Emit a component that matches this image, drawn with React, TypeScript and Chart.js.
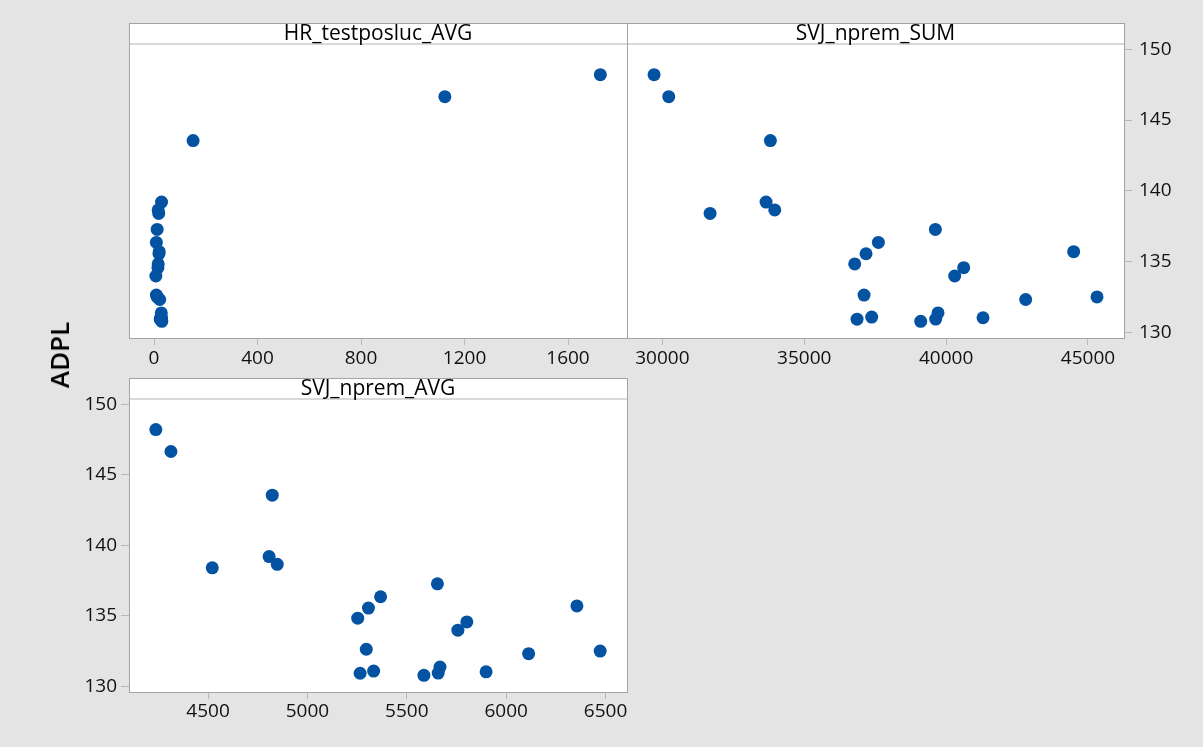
import React, { useEffect, useRef } from 'react';
import { Chart, registerables } from 'chart.js';

Chart.register(...registerables);

// ---- Data (one entry per observation) ----
const adpl = [148.2, 146.65, 143.55, 138.4, 139.2, 138.65, 137.27, 136.35, 135.55, 134.83, 135.7, 134.57, 133.98, 132.63, 132.32, 132.5, 130.93, 131.08, 130.78, 130.94, 131.37, 131.03];
const hrTestposlucAvg = [1725, 1124, 151, 18, 29, 16, 12, 9, 19, 16, 20, 15, 7, 9, 22, 12, 24, 27, 30, 25, 28, 29];
const svjNpremSum = [29706, 30223, 33806, 31680, 33653, 33959, 39621, 37612, 37177, 36778, 44495, 40619, 40302, 37107, 42804, 45318, 36860, 37377, 39104, 39632, 39714, 41300];
const svjNpremAvg = [4237, 4313, 4823, 4521, 4807, 4848, 5654, 5368, 5307, 5253, 6356, 5802, 5757, 5296, 6113, 6473, 5265, 5333, 5586, 5658, 5667, 5899];

const yTicks = [130, 135, 140, 145, 150];
const hrTicks = [0, 400, 800, 1200, 1600];
const sumTicks = [30000, 35000, 40000, 45000];
const avgTicks = [4500, 5000, 5500, 6000, 6500];

const yLabel = 'ADPL';
const titles = ['HR_testposluc_AVG', 'SVJ_nprem_SUM', 'SVJ_nprem_AVG'];

// ---- Styling ----
const FONT = '"Open Sans", "Noto Sans", sans-serif';
const BLUE = '#0452a2';
const TICK_COLOR = '#b8b8b8';
const TEXT_COLOR = '#111111';
const BORDER_COLOR = '#a3a3a3';
const HEADER_LINE = '#d9d9d9';
const BG = '#e4e4e4';
const HEADER_H = 21;
const Y_MIN = 129.6;
const Y_MAX = 150.37;

const panelPlugin = {
  id: 'panel',
  beforeDraw(chart: any) {
    const { ctx, chartArea: a } = chart;
    const top = a.top - HEADER_H;
    ctx.save();
    ctx.fillStyle = '#ffffff';
    ctx.fillRect(a.left, top, a.right - a.left, a.bottom - top);
    ctx.restore();
  },
  afterDraw(chart: any, _args: any, opts: any) {
    const { ctx, chartArea: a } = chart;
    const top = a.top - HEADER_H;
    ctx.save();
    // header separator
    ctx.strokeStyle = HEADER_LINE;
    ctx.lineWidth = 2;
    ctx.beginPath();
    ctx.moveTo(a.left, Math.round(a.top));
    ctx.lineTo(a.right, Math.round(a.top));
    ctx.stroke();
    // border
    ctx.strokeStyle = BORDER_COLOR;
    ctx.lineWidth = 1;
    ctx.strokeRect(Math.round(a.left) + 0.5, Math.round(top) + 0.5, Math.round(a.right - a.left), Math.round(a.bottom - top));
    // title
    ctx.fillStyle = '#000000';
    ctx.font = `21px ${FONT}`;
    ctx.textAlign = 'center';
    ctx.textBaseline = 'middle';
    ctx.fillText(opts.title, (a.left + a.right) / 2, top + HEADER_H / 2 + 1);
    ctx.restore();
  },
};

type Spec = {
  x: number; y: number; w: number; h: number;
  xs: number[]; xMin: number; xMax: number; xTicks: number[];
  title: string; yPos: 'left' | 'right' | 'none';
  pad: { left: number; right: number; top: number; bottom: number };
  xAxisH: number; yAxisW: number; xPad: number;
};

function makeConfig(s: Spec): any {
  const tickFont = { family: FONT, size: 19 };
  return {
    type: 'scatter',
    data: {
      datasets: [
        {
          data: s.xs.map((x, i) => ({ x, y: adpl[i] })),
          pointRadius: 6.5,
          pointHoverRadius: 6.5,
          backgroundColor: BLUE,
          borderColor: BLUE,
          borderWidth: 0,
        },
      ],
    },
    options: {
      responsive: false,
      animation: false,
      events: [],
      layout: { padding: s.pad },
      plugins: {
        legend: { display: false },
        tooltip: { enabled: false },
        panel: { title: s.title },
      },
      scales: {
        x: {
          type: 'linear',
          position: 'bottom',
          min: s.xMin,
          max: s.xMax,
          afterBuildTicks: (sc: any) => { sc.ticks = s.xTicks.map((v) => ({ value: v })); },
          afterFit: (sc: any) => { sc.height = s.xAxisH; },
          grid: { display: true, drawOnChartArea: false, drawTicks: true, tickLength: 7, tickColor: TICK_COLOR },
          border: { display: false },
          ticks: { font: tickFont, color: TEXT_COLOR, padding: s.xPad, maxRotation: 0, autoSkip: false, callback: (v: any) => String(v) },
        },
        y: {
          type: 'linear',
          display: s.yPos !== 'none',
          position: s.yPos === 'right' ? 'right' : 'left',
          min: Y_MIN,
          max: Y_MAX,
          afterBuildTicks: (sc: any) => { sc.ticks = yTicks.map((v) => ({ value: v })); },
          afterFit: (sc: any) => { sc.width = s.yAxisW; },
          grid: { display: true, drawOnChartArea: false, drawTicks: true, tickLength: 8, tickColor: TICK_COLOR },
          border: { display: false },
          ticks: { font: tickFont, color: TEXT_COLOR, padding: s.yPos === 'right' ? 7 : 4, autoSkip: false, callback: (v: any) => String(v) },
        },
      },
    },
    plugins: [panelPlugin],
  };
}

const specs: Spec[] = [
  {
    x: 100, y: 0, w: 540, h: 400,
    xs: hrTestposlucAvg, xMin: -96.8, xMax: 1828, xTicks: hrTicks,
    title: titles[0], yPos: 'none',
    pad: { left: 29, right: 13, top: 44, bottom: 0 },
    xAxisH: 62, yAxisW: 0, xPad: 2,
  },
  {
    x: 600, y: 0, w: 603, h: 400,
    xs: svjNpremSum, xMin: 28752, xMax: 46269, xTicks: sumTicks,
    title: titles[1], yPos: 'right',
    pad: { left: 27, right: 0, top: 44, bottom: 0 },
    xAxisH: 62, yAxisW: 79, xPad: 2,
  },
  {
    x: 40, y: 360, w: 600, h: 387,
    xs: svjNpremAvg, xMin: 4102, xMax: 6608, xTicks: avgTicks,
    title: titles[2], yPos: 'left',
    pad: { left: 0, right: 13, top: 39, bottom: 0 },
    xAxisH: 55, yAxisW: 89, xPad: 1,
  },
];

function Panel({ spec }: { spec: Spec }) {
  const ref = useRef<HTMLCanvasElement>(null);
  useEffect(() => {
    const chart = new Chart(ref.current as HTMLCanvasElement, makeConfig(spec));
    return () => chart.destroy();
  }, [spec]);
  return (
    <canvas
      ref={ref}
      width={spec.w}
      height={spec.h}
      style={{ position: 'absolute', left: spec.x, top: spec.y, width: spec.w, height: spec.h }}
    />
  );
}

export default function App() {
  return (
    <div style={{ position: 'fixed', left: 0, top: 0, width: 1203, height: 747, background: BG, overflow: 'hidden' }}>
      {specs.map((s, i) => (
        <Panel key={i} spec={s} />
      ))}
      <div
        style={{
          position: 'absolute',
          left: 59,
          top: 355,
          transform: 'translate(-50%, -50%) rotate(-90deg)',
          fontFamily: FONT,
          fontSize: 26,
          fontWeight: 600,
          color: '#000',
          whiteSpace: 'nowrap',
          lineHeight: 1,
        }}
      >
        {yLabel}
      </div>
    </div>
  );
}
